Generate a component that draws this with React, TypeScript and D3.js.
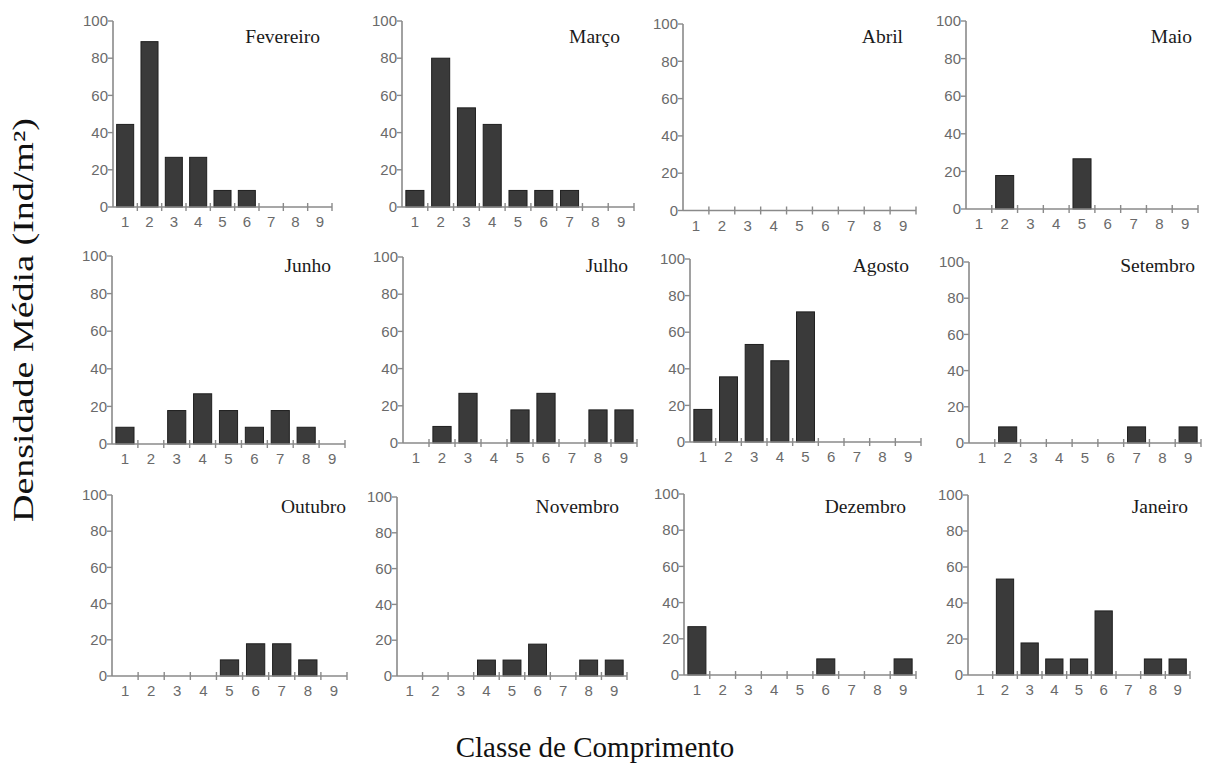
import React from "react";
import * as d3 from "d3";

// ---------- DATA ----------
const classes = ["1", "2", "3", "4", "5", "6", "7", "8", "9"];
const yTicks = [0, 20, 40, 60, 80, 100];
const months = [
  "Fevereiro", "Março", "Abril", "Maio",
  "Junho", "Julho", "Agosto", "Setembro",
  "Outubro", "Novembro", "Dezembro", "Janeiro",
];
const fevereiro = [44.4, 88.9, 26.7, 26.7, 8.9, 8.9, 0, 0, 0];
const marco = [8.9, 80, 53.3, 44.4, 8.9, 8.9, 8.9, 0, 0];
const abril = [0, 0, 0, 0, 0, 0, 0, 0, 0];
const maio = [0, 17.8, 0, 0, 26.7, 0, 0, 0, 0];
const junho = [8.9, 0, 17.8, 26.7, 17.8, 8.9, 17.8, 8.9, 0];
const julho = [0, 8.9, 26.7, 0, 17.8, 26.7, 0, 17.8, 17.8];
const agosto = [17.8, 35.6, 53.3, 44.4, 71.1, 0, 0, 0, 0];
const setembro = [0, 8.9, 0, 0, 0, 0, 8.9, 0, 8.9];
const outubro = [0, 0, 0, 0, 8.9, 17.8, 17.8, 8.9, 0];
const novembro = [0, 0, 0, 8.9, 8.9, 17.8, 0, 8.9, 8.9];
const dezembro = [26.7, 0, 0, 0, 0, 8.9, 0, 0, 8.9];
const janeiro = [0, 53.3, 17.8, 8.9, 8.9, 35.6, 0, 8.9, 8.9];
const seriesValues = [
  fevereiro, marco, abril, maio,
  junho, julho, agosto, setembro,
  outubro, novembro, dezembro, janeiro,
];
const yTitle = "Densidade Média (Ind/m²)";
const xTitle = "Classe de Comprimento";

// ---------- LAYOUT (pixel geometry of each panel) ----------
// [axis left, axis right, y of 100, y of 0, title right edge, title baseline]
const panelLayout = [
  [113, 332, 21, 207, 320, 43],
  [402, 634, 21, 207, 620, 43],
  [683, 916, 24, 210.5, 903, 43],
  [966, 1198, 21, 209, 1192, 43],
  [112, 345, 256, 444, 331, 272],
  [403, 637, 257, 443, 628, 272],
  [690, 921, 259, 442, 909, 272],
  [969, 1201, 262, 443, 1195, 272],
  [112, 347, 495, 676, 346, 513],
  [397, 627, 497, 676, 619, 513],
  [684, 916, 494, 675, 906, 513],
  [968, 1190, 495, 675, 1188, 513],
];

const AXIS = "#8a8a8a";
const TICKTXT = "#6a6a6a";
const SANS = "'Liberation Sans', Arial, sans-serif";
const SERIF = "'Liberation Serif', 'Times New Roman', serif";

function Panel({ idx }: { idx: number }) {
  const [x0, x1, yT, yB, tR, tY] = panelLayout[idx];
  const vals = seriesValues[idx];
  const x = d3.scaleBand<string>().domain(classes).range([x0, x1]).paddingInner(0.3).paddingOuter(0.15);
  const y = d3.scaleLinear().domain([0, 100]).range([yB, yT]);
  const step = x.step();
  const bounds = d3.range(1, classes.length + 1).map((k) => x0 + k * step);
  return (
    <g>
      {vals.map((v, i) =>
        v > 0 ? (
          <rect
            key={i}
            x={x(classes[i])!}
            y={y(v)}
            width={x.bandwidth()}
            height={y(0) - y(v)}
            fill="#3a3a3a"
            stroke="#1f1f1f"
            strokeWidth={1}
          />
        ) : null
      )}
      {/* y axis */}
      <line x1={x0} x2={x0} y1={y(100)} y2={y(0)} stroke={AXIS} strokeWidth={1.6} />
      {yTicks.map((t) => (
        <g key={t}>
          <line x1={x0 - 5} x2={x0} y1={y(t)} y2={y(t)} stroke={AXIS} strokeWidth={1.4} />
          <text
            x={x0 - 5}
            y={y(t)}
            dy="0.35em"
            textAnchor="end"
            fontFamily={SANS}
            fontSize={15}
            fill={TICKTXT}
          >
            {t}
          </text>
        </g>
      ))}
      {/* x axis */}
      <line x1={x0} x2={x1} y1={y(0)} y2={y(0)} stroke={AXIS} strokeWidth={1.6} />
      {bounds.map((b, k) => (
        <line key={k} x1={b} x2={b} y1={y(0) - 4} y2={y(0) + 4} stroke={AXIS} strokeWidth={1.4} />
      ))}
      {classes.map((c) => (
        <text
          key={c}
          x={x(c)! + x.bandwidth() / 2}
          y={y(0) + 20}
          textAnchor="middle"
          fontFamily={SANS}
          fontSize={15}
          fill={TICKTXT}
        >
          {c}
        </text>
      ))}
      <text x={tR} y={tY} textAnchor="end" fontFamily={SERIF} fontSize={19.5} fill="#1a1a1a">
        {months[idx]}
      </text>
    </g>
  );
}

export default function App() {
  return (
    <svg
      width={1206}
      height={769}
      style={{ position: "absolute", left: 0, top: 0, background: "#fff" }}
    >
      <rect x={0} y={0} width={1206} height={769} fill="#fff" />
      {months.map((_, i) => (
        <Panel key={i} idx={i} />
      ))}
      <text
        transform="translate(33,320) rotate(-90)"
        textAnchor="middle"
        fontFamily={SERIF}
        fontSize={29}
        fill="#111"
        textLength={404}
        lengthAdjust="spacingAndGlyphs"
      >
        {yTitle}
      </text>
      <text x={595} y={757} textAnchor="middle" fontFamily={SERIF} fontSize={29} fill="#111">
        {xTitle}
      </text>
    </svg>
  );
}
